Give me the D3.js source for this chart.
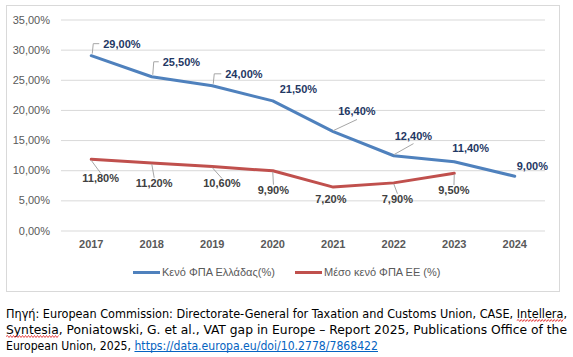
<!DOCTYPE html>
<html>
<head>
<meta charset="utf-8">
<script src="https://cdn.jsdelivr.net/npm/d3@7"></script>
<style>
  html, body { margin: 0; padding: 0; background: #fff; }
  svg { display: block; }
</style>
</head>
<body>
<svg id="chart" width="573" height="357"></svg>
<script>
// ---- data ----
const years = ["2017","2018","2019","2020","2021","2022","2023","2024"];
const greece = [29.0, 25.5, 24.0, 21.5, 16.4, 12.4, 11.4, 9.0];
const euAvg = [11.8, 11.2, 10.6, 9.9, 7.2, 7.9, 9.5];
const yTicks = [0, 5, 10, 15, 20, 25, 30, 35];
const seriesNames = ["Κενό ΦΠΑ Ελλάδας(%)", "Μέσο κενό ΦΠΑ ΕΕ (%)"];
const captionLines = [
  "Πηγή: European Commission: Directorate-General for Taxation and Customs Union, CASE, Intellera,",
  "Syntesia, Poniatowski, G. et al., VAT gap in Europe – Report 2025, Publications Office of the",
  "European Union, 2025, https://data.europa.eu/doi/10.2778/7868422"
];
const misspelled = ["Intellera", "Syntesia"];

// ---- layout (label offsets relative to point; leader style) ----
const greeceLabelLayout = [[12,-12,"elbow"],[11,-15,"elbow"],[13,-12,"elbow"],[7,-12,null],[5,-20,"line"],[1,-20,"line"],[-2,-14,null],[2,-10,null]];
const euLabelLayout = [[-9,19,"line"],[-16,20,"line"],[-9,17,"line"],[-15,19,"line"],[-18,12,null],[-12,16,"line"],[-16,17,"line"]];

const svg = d3.select("#chart");
const blue = "#4F81BD", red = "#C0504D";
const baseFont = "'Liberation Sans', Arial, sans-serif";

// chart border
svg.append("rect").attr("x",6.5).attr("y",5.5).attr("width",553).attr("height",286)
  .attr("fill","#fff").attr("stroke","#D9D9D9").attr("stroke-width",1);

const x = d3.scaleBand().domain(years).range([61, 545]);
const y = d3.scaleLinear().domain([0, 35]).range([230.5, 19.5]);
const cx = d => x(d) + x.bandwidth()/2;

const loc = d3.formatLocale({decimal: ",", thousands: ".", grouping: [3], currency: ["", "€"]});
const fmt2 = loc.format(".2f");
const pct = v => fmt2(v) + "%";

// y axis with gridlines
const yAxis = d3.axisLeft(y).tickValues(yTicks).tickSize(-(545-61)).tickPadding(11).tickFormat(pct);
const gy = svg.append("g").attr("transform","translate(61,0)").call(yAxis);
gy.select(".domain").remove();
gy.selectAll(".tick line").attr("stroke","#D9D9D9").attr("stroke-width",1);
gy.selectAll(".tick text").attr("fill","#595959").style("font-family",baseFont).style("font-size","11px");

// x axis
const xAxis = d3.axisBottom(x).tickSize(0).tickPadding(10);
const gx = svg.append("g").attr("transform","translate(0,230.5)").call(xAxis);
gx.select(".domain").remove();
gx.selectAll(".tick text").attr("fill","#595959").style("font-family",baseFont).style("font-size","11px").style("font-weight","bold");

// lines
const line = d3.line().x((d,i) => cx(years[i])).y(d => y(d));
svg.append("path").datum(greece).attr("d", line).attr("fill","none").attr("stroke",blue).attr("stroke-width",3).attr("stroke-linejoin","round").attr("stroke-linecap","round");
svg.append("path").datum(euAvg).attr("d", line).attr("fill","none").attr("stroke",red).attr("stroke-width",3).attr("stroke-linejoin","round").attr("stroke-linecap","round");

// labels
function drawLabels(vals, layout, color) {
  const g = svg.append("g");
  vals.forEach((v,i) => {
    const px = cx(years[i]), py = y(v);
    const [dx, dy, leader] = layout[i];
    const t = g.append("text").attr("x", px+dx).attr("y", py+dy).attr("dy","0.35em")
      .attr("fill", color).style("font-family",baseFont)
      .style("font-size","11px").style("font-weight","bold").text(pct(v));
    if (!leader) return;
    const b = t.node().getBBox();
    let pts;
    if (leader === "elbow") {
      const ty = py + dy;
      pts = [[px+1, py-2],[px+2, ty],[b.x-4, ty]];
    } else {
      const mx = b.x + b.width/2;
      const above = (b.y + b.height) < py;
      const ey = above ? b.y + b.height + 2 : b.y + 1;
      pts = [[px, py + (above ? -1 : 1)], [mx, ey]];
    }
    g.append("path").attr("d", d3.line()(pts)).attr("fill","none").attr("stroke","#A6A6A6").attr("stroke-width",1);
  });
}
drawLabels(greece, greeceLabelLayout, "#1F3864");
drawLabels(euAvg, euLabelLayout, "#404040");

// legend
const legend = svg.append("g").attr("transform","translate(0,272.5)");
const legendItems = [{name: seriesNames[0], color: blue, x: 133}, {name: seriesNames[1], color: red, x: 295}];
legendItems.forEach(it => {
  legend.append("line").attr("x1", it.x).attr("x2", it.x+27).attr("y1",0).attr("y2",0).attr("stroke", it.color).attr("stroke-width",3);
  legend.append("text").attr("x", it.x+29).attr("y",0).attr("dy","0.35em").attr("fill","#595959")
    .style("font-family",baseFont).style("font-size","11px").text(it.name);
});

// caption
const capFont = "'Liberation Sans Narrow', 'DejaVu Sans Condensed', 'Liberation Sans', sans-serif";
const capG = svg.append("g");
const capBaselines = [317.5, 333.5, 349.5];
const capWidths = [561, 561, 372];
captionLines.forEach((txt, li) => {
  const t = capG.append("text").attr("x", 6).attr("y", capBaselines[li])
    .attr("textLength", capWidths[li]).attr("lengthAdjust", "spacingAndGlyphs")
    .style("font-family", capFont).style("font-size", "12.5px").attr("fill", "#000");
  const m = txt.match(/https\S+/);
  if (m) {
    const pre = txt.slice(0, m.index);
    t.append("tspan").text(pre);
    t.append("tspan").attr("fill", "#0563C1").text(m[0]);
  } else {
    t.text(txt);
  }
  const node = t.node();
  if (m) {
    const s = node.getStartPositionOfChar(m.index).x;
    const e = node.getEndPositionOfChar(txt.length - 1).x;
    capG.append("line").attr("x1", s).attr("x2", e).attr("y1", capBaselines[li] + 2).attr("y2", capBaselines[li] + 2)
      .attr("stroke", "#0563C1").attr("stroke-width", 1);
  }
  misspelled.forEach(w => {
    const k = txt.indexOf(w);
    if (k < 0) return;
    const s = node.getStartPositionOfChar(k).x;
    const e = node.getEndPositionOfChar(k + w.length - 1).x;
    const yb = capBaselines[li] + 3;
    let d = `M${s},${yb}`;
    let up = true;
    for (let xx = s + 1.5; xx <= e; xx += 1.5) { d += `L${xx},${yb + (up ? -1 : 1)}`; up = !up; }
    capG.append("path").attr("d", d).attr("fill", "none").attr("stroke", "#E02020").attr("stroke-width", 0.8);
  });
});
</script>
</body>
</html>
